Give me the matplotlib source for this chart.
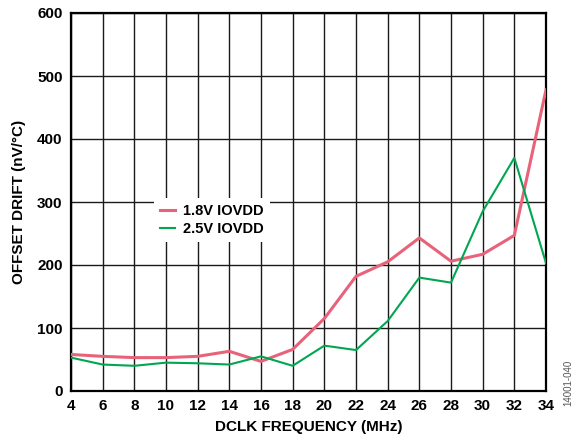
import matplotlib.pyplot as plt
import numpy as np

plt.rcParams['font.family'] = ['Liberation Sans', 'DejaVu Sans']

# DCLK frequency (MHz)
freq = [4, 6, 8, 10, 12, 14, 16, 18, 20, 22, 24, 26, 28, 30, 32, 34]
# offset drift (nV/C)
drift_18v = [58, 55, 53, 53, 55, 63, 47, 66, 115, 182, 205, 243, 206, 217, 247, 478]
drift_25v = [53, 42, 40, 45, 44, 42, 55, 40, 72, 65, 111, 180, 172, 285, 370, 203]

x_ticks = list(range(4, 35, 2))
y_ticks = list(range(0, 601, 100))

fig = plt.figure(figsize=(5.83, 4.46), dpi=100)
ax = fig.add_axes([71 / 583, 55 / 446, 475 / 583, 378 / 446])

ax.plot(freq, drift_18v, color='#E8637A', linewidth=2.2, label='1.8V IOVDD', zorder=3)
ax.plot(freq, drift_25v, color='#00A651', linewidth=1.5, label='2.5V IOVDD', zorder=3)

ax.set_xlim(4, 34)
ax.set_ylim(0, 600)
ax.set_xticks(x_ticks)
ax.set_yticks(y_ticks)
ax.grid(True, color='#1a1a1a', linewidth=1.0)
ax.tick_params(length=0, pad=6, labelsize=11)
for lbl in ax.get_xticklabels() + ax.get_yticklabels():
    lbl.set_fontweight('bold')
for s in ax.spines.values():
    s.set_linewidth(1.6)
    s.set_color('black')
ax.set_axisbelow(True)

ax.set_xlabel('DCLK FREQUENCY (MHz)', fontsize=11, fontweight='bold', labelpad=5)
ax.set_ylabel('OFFSET DRIFT (nV/°C)', fontsize=11, fontweight='bold', labelpad=8)

leg = ax.legend(loc='upper left', bbox_to_anchor=(0.16, 0.53), frameon=True,
                fancybox=False, framealpha=1, edgecolor='white',
                prop={'weight': 'bold', 'size': 10.5}, handlelength=1.0,
                handletextpad=0.6, labelspacing=0.3, borderpad=0.4)
leg.get_frame().set_linewidth(0)

fig.text(0.975, 0.09, '14001-040', rotation=90, fontsize=7, color='#555555',
         ha='center', va='bottom')

fig.savefig('out.png', dpi=100)
